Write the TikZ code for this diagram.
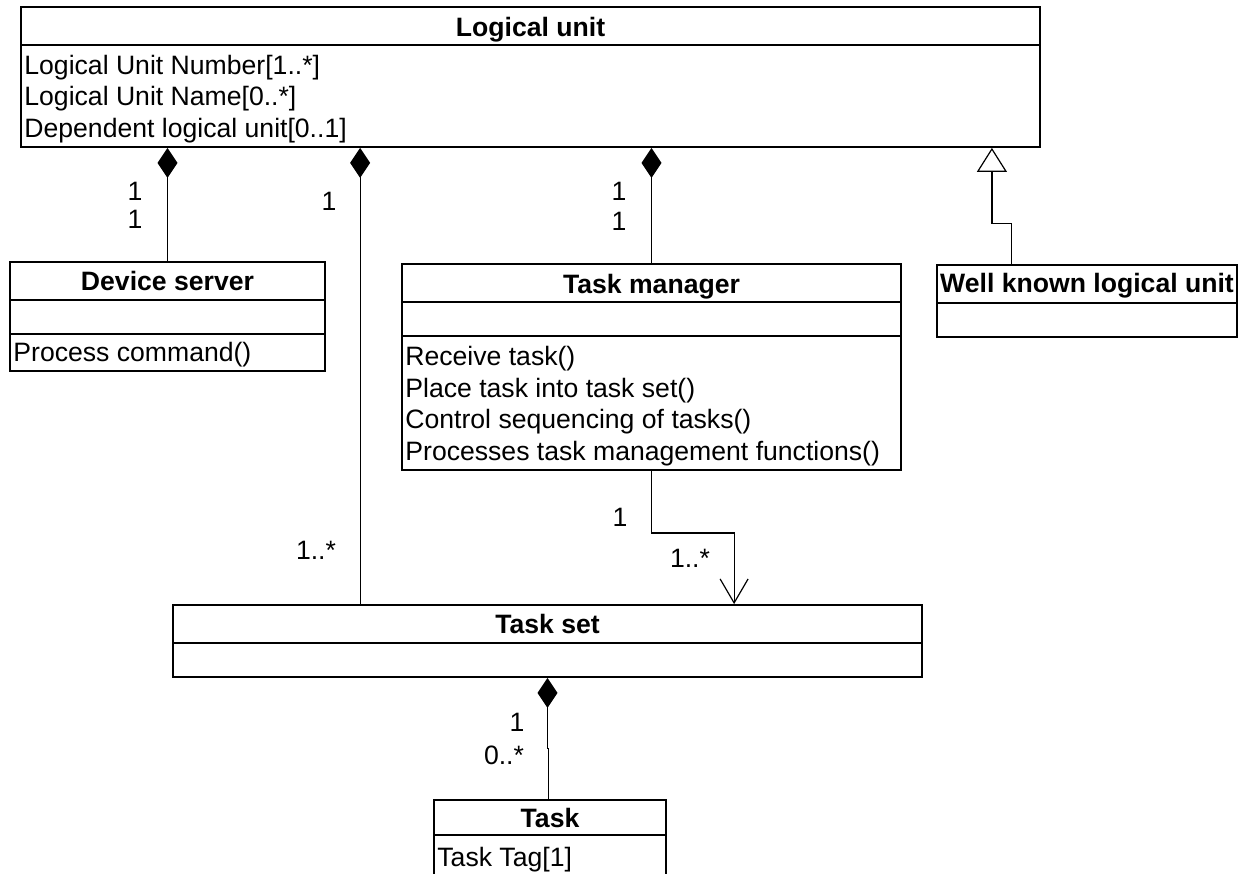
\documentclass[tikz,border=0pt]{standalone}
\usepackage{fontspec}
\setmainfont{Liberation Sans}
\usetikzlibrary{arrows.meta,fit,calc}
\begin{document}
\begin{tikzpicture}[x=0.5pt,y=-0.5pt,
  box/.style={draw, line width=0.9pt, inner sep=0pt},
  sep/.style={line width=0.9pt},
  conn/.style={line width=0.6pt},
  comp/.style={conn, -{Diamond[length=15pt,width=10pt,fill=black]}},
  gen/.style={conn, -{Triangle[open,length=12pt,width=15pt]}},
  nav/.style={conn, -{Straight Barb[length=12pt,width=14pt]}},
  ttl/.style={inner sep=0pt, anchor=base, font=\fontsize{13.3}{15}\selectfont\bfseries},
  txt/.style={inner sep=0pt, anchor=base west, font=\fontsize{13.3}{15}\selectfont},
  lbl/.style={inner sep=0pt, anchor=base, font=\fontsize{13.3}{15}\selectfont},
]
\useasboundingbox (0,0) rectangle (1241,873);
\clip (0,0) rectangle (1241,873);

% ---------- class boxes ----------
\node[box, fit={(21,7)(1040,147)}] (lu) {};
\draw[sep] ($(lu.north west)+(0,39)$) -- ($(lu.north east)+(0,39)$);
\node[ttl] (lut) at (530.5,36) {Logical unit};
\node[txt] (lua1) at (24,74) {Logical Unit Number[1..*]};
\node[txt] (lua2) at (24,105.5) {Logical Unit Name[0..*]};
\node[txt] (lua3) at (24,137) {Dependent logical unit[0..1]};

\node[box, fit={(10,262)(325,371)}] (ds) {};
\draw[sep] ($(ds.north west)+(0,39)$) -- ($(ds.north east)+(0,39)$);
\draw[sep] ($(ds.north west)+(0,73)$) -- ($(ds.north east)+(0,73)$);
\node[ttl] (dst) at (167.5,290.5) {Device server};
\node[txt] (dsm1) at (13,361) {Process command()};

\node[box, fit={(402,264)(901,470)}] (tm) {};
\draw[sep] ($(tm.north west)+(0,39)$) -- ($(tm.north east)+(0,39)$);
\draw[sep] ($(tm.north west)+(0,73)$) -- ($(tm.north east)+(0,73)$);
\node[ttl] (tmt) at (651.5,293) {Task manager};
\node[txt] (tmm1) at (405,365) {Receive task()};
\node[txt] (tmm2) at (405,397) {Place task into task set()};
\node[txt] (tmm3) at (405,428.5) {Control sequencing of tasks()};
\node[txt] (tmm4) at (405,460) {Processes task management functions()};

\node[box, fit={(937,265)(1237,337)}] (wk) {};
\draw[sep] ($(wk.north west)+(0,39)$) -- ($(wk.north east)+(0,39)$);
\node[ttl] (wkt) at (1087,292) {Well known logical unit};

\node[box, fit={(173,605)(922,677)}] (ts) {};
\draw[sep] ($(ts.north west)+(0,39)$) -- ($(ts.north east)+(0,39)$);
\node[ttl] (tst) at (547.5,633) {Task set};

\node[box, fit={(434,800)(666,900)}] (tk) {};
\draw[sep] ($(tk.north west)+(0,36)$) -- ($(tk.north east)+(0,36)$);
\node[ttl] (tkt) at (550,827) {Task};
\node[txt] (tka1) at (437,866) {Task Tag[1]};

% ---------- connectors ----------
\draw[comp] (ds.north) -- (ds.north |- lu.south);

\coordinate (c2) at ($(ts.north west)+(188,0)$);
\draw[comp] (c2) -- (c2 |- lu.south);

\draw[comp] (tm.north) -- (tm.north |- lu.south);

\coordinate (g1) at ($(wk.north west)+(75,0)$);
\coordinate (g2) at ($(lu.south east)+(-49,0)$);
\draw[gen] (g1) -- ++(0,-41) -| (g2);

\coordinate (n1) at ($(ts.north west)+(562,0)$);
\draw[nav] (tm.south) -- ++(0,62) -| (n1);

\coordinate (k1) at ($(tk.north)+(-1.2,0)$);
\draw[comp] (k1) -- ++(0,-51) -| (ts.south);

% ---------- multiplicities ----------
\node[lbl] (m1) at (135,200) {1};
\node[lbl] (m2) at (135,228) {1};
\node[lbl] (m3) at (329,210) {1};
\node[lbl] (m4) at (619,200) {1};
\node[lbl] (m5) at (619,230) {1};
\node[lbl] (m6) at (316,559) {1..*};
\node[lbl] (m7) at (620,526) {1};
\node[lbl] (m8) at (690,567) {1..*};
\node[lbl] (m9) at (517,731) {1};
\node[lbl] (m10) at (504,764) {0..*};
\end{tikzpicture}
\end{document}
